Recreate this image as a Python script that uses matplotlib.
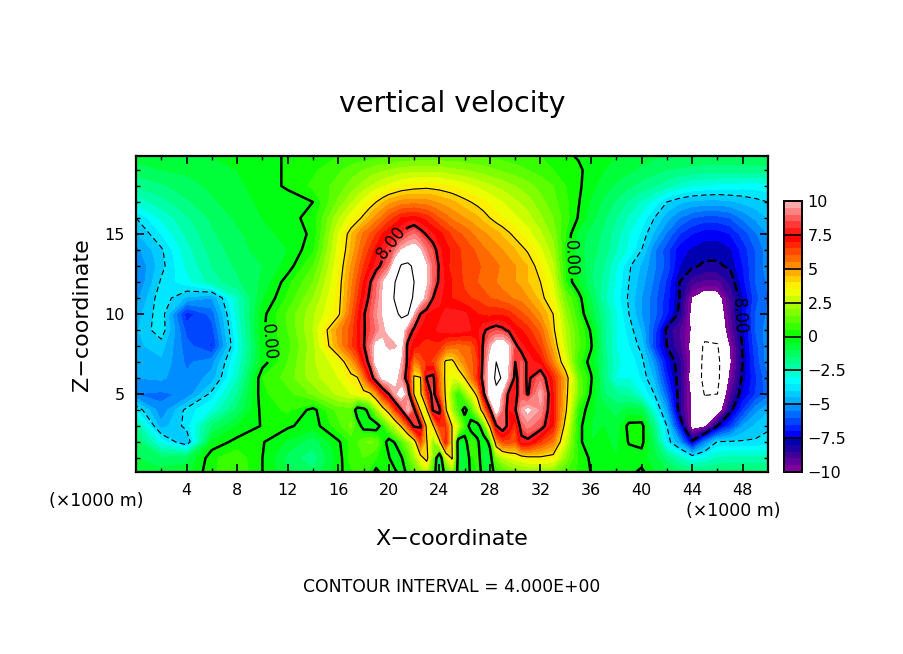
import numpy as np
import matplotlib
matplotlib.use('Agg')
import matplotlib.pyplot as plt
from matplotlib.colors import LinearSegmentedColormap, BoundaryNorm

# values, one list per height (m/s)
x_km = [0,2,4,6,8,10,12,14,16,
        17,17.5,18,18.5,19,19.5,20,20.5,21,21.5,22,22.5,23,23.5,24,24.5,25,25.5,26,26.5,27,27.5,28,28.5,29,29.5,30,30.5,31,
        32,33,34,35,36,37,38,39,40,41,42,43,44,45,46,47,48,49,50]
z_km = [0.125,1,2,3,4,5,6,7,8,9,10,11,12,13,14,15,16,17,18,19,19.875]

w_z19_9 = [-0.8,-0.7,-0.6,-0.5,-0.4,-0.3,0.1,0.3,0.5,
    0.6,.65,.7,.75,.8,.85,.9,.95,1,1.05,1.1,1.1,1.1,1.1,1.1,1.1,1.1,1.1,1,1,1,1,.9,.85,.8,.75,.7,.65,.6,
    .5,.4,.1,-.05,-.3,-.4,-.5,-.6,-.8,-.9,-1,-1,-1,-1,-1,-1,-1,-1,-1]
w_z19 = [-1.2,-1,-0.9,-0.7,-0.5,-0.3,0.1,0.4,0.9,
    1.2,1.35,1.5,1.65,1.8,1.9,2,2.1,2.2,2.25,2.3,2.3,2.3,2.3,2.3,2.2,2.1,2.05,2,1.9,1.8,1.7,1.6,1.5,1.4,1.3,1.2,1.1,1,
    .8,.5,.3,.1,-.2,-.5,-.7,-.9,-1.1,-1.3,-1.5,-1.6,-1.7,-1.8,-1.8,-1.8,-1.8,-1.8,-1.7]
w_z18 = [-2,-1.6,-1.2,-0.9,-0.6,-0.3,0.1,0.6,1.2,
    1.7,1.95,2.2,2.45,2.7,2.9,3.1,3.3,3.5,3.6,3.7,3.75,3.8,3.75,3.7,3.6,3.5,3.35,3.2,3.05,2.9,2.75,2.6,2.45,2.3,2.15,2,1.85,1.7,
    1.3,1,.5,.1,-.3,-.8,-1.1,-1.4,-1.7,-2,-2.3,-2.7,-3,-3.1,-3.2,-3.2,-3.3,-3.3,-3.2]
w_z17 = [-2.8,-2.2,-1.6,-1.1,-0.7,-0.4,-0.3,0,1.6,
    2.4,2.8,3.2,3.6,4,4.4,4.8,5,5.2,5.25,5.3,5.25,5.2,5.05,4.9,4.75,4.6,4.4,4.2,4,3.8,3.6,3.4,3.2,3,2.8,2.6,2.4,2.2,
    1.7,1.2,.6,.05,-.6,-1.1,-1.6,-2.1,-2.6,-3.2,-4,-4.4,-4.6,-4.7,-4.7,-4.6,-4.4,-4.2,-4]
w_z16 = [-4,-2.9,-2.1,-1.4,-0.9,-0.5,-0.2,0.2,2.4,
    3.3,3.7,4.2,4.7,5.2,5.7,6.2,6.6,7,7.1,7.2,7,6.8,6.4,6,5.7,5.4,5.2,5,4.8,4.6,4.3,4,3.7,3.5,3.3,3.1,2.9,2.7,
    2.1,1.5,.7,-.05,-.8,-1.4,-2,-2.6,-3.2,-4,-4.8,-5.5,-6,-6.2,-6.2,-6,-5.4,-4.9,-4.5]
w_z15 = [-4.6,-3.5,-2.4,-1.6,-1.1,-0.7,-0.3,0.1,3,
    4.4,5,5.6,6,6.5,7,7.4,7.7,8,8.6,9,8.4,7.9,7.5,7.2,6.8,6.4,6.1,5.9,5.6,5.3,5.1,4.9,4.7,4.4,4.1,3.8,3.5,3.2,
    2.6,1.8,.5,-.7,-1.2,-1.6,-2.3,-3,-3.6,-4.6,-5.6,-6.5,-7,-7.3,-7.3,-7,-6.3,-5.6,-5]
w_z14 = [-5.2,-4.1,-2.7,-1.8,-1.2,-0.8,-0.5,0.4,3.2,
    4.6,5.3,6,6.6,7.2,7.7,8.2,9,10,10.4,10.6,10,9,8.4,7.6,7.2,6.9,6.6,6.3,6.1,5.9,5.6,5.4,5.2,5,4.8,4.5,4.2,3.9,
    3.1,2.2,.3,-.8,-1.3,-1.7,-2.5,-3.1,-4,-5.4,-6.3,-7.3,-7.6,-7.8,-7.8,-7.6,-6.8,-6,-5.2]
w_z13 = [-5.6,-4.2,-2.9,-2,-1.4,-1,-0.3,1,3.4,
    5,5.7,6.5,7.1,7.7,8.2,9,10.8,12.2,12.4,11.7,11,10,8.8,7.9,7.2,6.8,6.6,6.4,6.2,6.1,5.9,5.8,5.6,5.4,5.2,5,4.7,4.5,
    3.6,2.6,.4,-.6,-1.4,-2,-3,-3.9,-4.6,-5.4,-6.2,-7.5,-7.9,-8.1,-8.1,-7.9,-7,-6,-5.2]
w_z12 = [-5.6,-3.9,-3.2,-2.3,-1.6,-0.9,0.3,1.5,3.6,
    5.3,6.1,7,7.9,8.8,9.8,11,12,12.6,12.7,12,11,10,8.8,7.8,7.4,7,6.7,6.4,6.2,6,5.8,5.7,5.5,5.3,5.1,5,4.8,4.5,
    4,3,.5,-.5,-1.4,-2.2,-3.1,-4,-4.8,-5.6,-6.6,-8,-8.8,-9.2,-9.2,-8.4,-7.2,-6,-5.4]
w_z11 = [-5.2,-3.6,-4.6,-5,-2.6,-0.6,0.6,2,3.7,
    5.5,6.4,7.4,8.2,9,10,11.2,12.2,12.7,12.6,11.8,10.5,9.4,8,7.6,7.3,7,6.8,6.6,6.5,6.4,6.2,6,5.9,5.7,5.6,5.4,5.3,5,
    4.3,3.3,1.5,.3,-1,-2.3,-3.3,-4.1,-5,-5.8,-6.8,-8,-10.1,-10.8,-10.6,-9,-7.6,-6.2,-5.5]
w_z10 = [-4.8,-3.6,-6.8,-5.8,-2.8,-0.2,1.1,2.4,3.8,
    5.8,6.8,7.9,8.5,9.4,10,10.6,11.6,12.4,12.2,9.6,8,7.4,7.3,7.4,7.6,7.7,7.7,7.6,7.3,7,6.9,6.8,6.9,6.9,6.7,6.4,6.1,5.8,
    5,4,2,.6,-.8,-1.9,-3,-4,-5,-5.8,-6.9,-8.2,-10.4,-11,-11,-9.2,-7.4,-6,-5.4]
w_z9 = [-4.6,-3.6,-6.2,-6.2,-3,-0.1,1,2.5,5.2,
    6.2,7,7.9,8.4,9,9.8,10.2,10.6,10.8,8.8,7.8,7.4,7.3,7.4,7.6,7.8,7.9,7.8,7.7,7.5,7.3,7.9,8.2,8.4,8.2,7.8,7.3,7,6.7,
    5.8,4.2,2.4,1,-.1,-1.8,-3,-3.7,-4.6,-6.2,-8.2,-9,-10.2,-11.2,-11.4,-9.4,-7.7,-6,-5.2]
w_z8 = [-4.6,-4.3,-5.8,-6.6,-3.2,-0.3,0.8,2.3,5,
    6.3,7,7.9,9,10.3,10.2,9.6,9.8,10.2,7.7,7.2,6.9,6.7,6.8,6.8,6,5.8,5.7,5.8,6,6.8,8.2,9.6,10.8,11,10,8.2,7.6,7.3,
    6.4,4.7,2.6,1.1,.1,-1.8,-3,-3.5,-4.2,-6.4,-8,-8.9,-10.4,-12.3,-12.1,-10,-7.9,-6.2,-5.2]
w_z7 = [-4.8,-4.6,-5.6,-5.2,-2.9,-0.3,1,2.4,3.3,
    4.8,5.8,7.2,8.4,10.4,10.8,11,10.8,9.8,7.7,5.3,6,6.6,6.4,5.2,3.8,3.7,4.6,5.4,5.8,6.4,8.4,10.3,12,11.5,9.8,8,8.6,7.8,
    7.2,5.4,3.2,.7,-.3,-1.6,-2.9,-3.2,-3.8,-5.2,-7.3,-8.4,-10.4,-12.5,-12.4,-10.2,-8,-6.4,-5.2]
w_z6 = [-5,-4.9,-5.4,-4.8,-2.6,0.5,1.2,2.3,3,
    3.7,3.9,5.4,7.2,8.8,10.2,10.6,10.4,9.2,7.2,3.8,3.9,8.1,8.4,5.6,3.7,3,3.3,4,5.4,6.6,8.6,10.6,12.5,11.8,9.4,7.7,8.6,7.8,
    8.8,6.8,4.6,1.4,.1,-1.6,-3,-3,-3.6,-4.6,-6.8,-8.4,-10.6,-12.5,-12.4,-9.8,-7.8,-6.6,-5.6]
w_z5 = [-5.5,-5.6,-5.4,-3.8,-2,0.4,0.8,1.6,2.6,
    3,3.3,3.6,3.8,5,6.8,8,9.6,10.6,9.2,3.8,3.7,6.6,8.6,6,3.8,1.8,.3,1.8,3,4.4,7.8,10.8,11.4,9.4,7.7,7.7,8.6,7.9,
    9.8,7,4.4,1.5,-.1,-1.4,-2,-2.2,-3,-4,-6,-8.4,-10.3,-12.1,-12,-9.2,-7.5,-6.5,-5.7]
w_z4 = [-3.5,-5.4,-3.8,-3,-1.4,0.2,0.6,-0.2,1.2,
    1.2,-.6,-.4,.5,2,3.4,4.6,6.4,8,10,8.4,3.8,3.8,8.2,8.4,4.2,2.3,.8,-.4,.8,2.6,5,7.8,10.6,9,7.4,7.9,9.6,10.2,
    9.4,7,4.2,.5,-.4,-.8,-1.2,-.8,-1,-3,-5,-8.4,-10.3,-11,-11,-8.3,-6.5,-5.2,-4.6]
w_z3 = [-2,-4.8,-3.8,-1.5,-0.5,0.05,0.1,-0.3,0.8,
    1.6,.6,-.4,-.5,-.5,.4,1.6,2.8,4.2,6,8.2,8.2,3.6,3.8,6.6,6.5,4,2.5,.8,-.5,-.6,1,4.3,7.9,8.8,7.6,6.5,8.6,9.2,
    8.5,7,3.5,.2,-.5,-.5,-.8,.2,.3,-1.8,-4,-7,-10.6,-10.3,-8,-6.5,-5,-4.4,-4.1]
w_z2 = [-1.3,-3.2,-4.6,-0.4,0.2,0.05,-0.6,-1.3,-0.1,
    .6,1,1.4,1.6,1.4,.5,-.4,.1,1,2,3.3,6.2,4.1,2,3.6,7,4,-.6,-.5,1,.2,-.7,.3,5,6.2,6.3,6,7.6,7.7,
    6.5,5.5,2.8,.2,-.5,-.4,-.6,.05,.2,-1.2,-3.6,-5,-7.8,-5.4,-3.9,-3.9,-3.9,-3.9,-3.8]
w_z1 = [-1,-1.4,-1.2,0.4,0.8,0,-1.2,-1.8,-0.3,
    .7,.9,1,.8,.5,.3,.1,-.8,-.1,1,2,3.5,4.5,1.5,-1.4,2.6,4.2,-.5,-1,.4,.6,-.9,-.5,1.6,2.5,2.9,3.2,3.5,3.7,
    3.8,3.6,1.8,.4,-.1,-.3,-.5,-.3,-.3,-.8,-1.7,-2.5,-3.3,-3,-2.5,-2.4,-2.4,-2.4,-2.4]
w_z0 = [-0.7,-0.8,-0.7,0.4,0.9,0,-0.9,-1.4,-0.2,
    .4,.6,.7,.4,-.2,.2,.5,.2,-.5,.3,1.2,1.8,2.4,.8,-1.3,.6,1.8,-.4,-.9,.2,.5,-.4,-.6,.5,1,1.3,1.6,1.7,1.8,
    2,1.7,1,.4,-.02,-.2,-.3,-.2,.15,-.5,-1,-1.3,-1.5,-1.5,-1.4,-1.3,-1.3,-1.4,-1.4]

w = np.array([w_z0,w_z1,w_z2,w_z3,w_z4,w_z5,w_z6,w_z7,w_z8,w_z9,w_z10,w_z11,w_z12,
              w_z13,w_z14,w_z15,w_z16,w_z17,w_z18,w_z19,w_z19_9])

bar_ticks = [-10,-7.5,-5,-2.5,0,2.5,5,7.5,10]
bar_labels = ['\u221210','\u22127.5','\u22125','\u22122.5','0','2.5','5','7.5','10']

W, H = 904., 654.
def px_box(l, t, r, b):
    return [l/W, 1-b/H, (r-l)/W, (b-t)/H]

anchors = [(0.00,(0.50,0,0.62)),(0.05,(0.25,0,0.60)),(0.10,(0,0,0.66)),(0.13,(0,0,1)),
           (0.25,(0,0.66,1)),(0.33,(0,1,1)),(0.375,(0,1,0.72)),(0.50,(0,1,0)),
           (0.625,(0.70,1,0)),(0.68,(1,1,0)),(0.75,(1,0.65,0)),(0.875,(1,0,0)),
           (0.93,(1,0.25,0.25)),(1.00,(1,0.66,0.66))]
cmap = LinearSegmentedColormap.from_list('vel', anchors, N=40)
cmap.set_over('white')
cmap.set_under('white')
levels = np.arange(-10, 10.01, 0.5)
norm = BoundaryNorm(levels, cmap.N)

fig = plt.figure(figsize=(9.04, 6.54), dpi=100)
ax = fig.add_axes(px_box(136, 156, 768, 472))

ax.contourf(x_km, z_km, w, levels=levels, cmap=cmap, norm=norm, extend='both', antialiased=False)

# thin lines +-4 and +-12, thick ones 0 and +-8
ax.contour(x_km, z_km, w, levels=[-12,-4], colors='k', linewidths=0.8, linestyles=[(0,(5,3))])
ax.contour(x_km, z_km, w, levels=[4,12], colors='k', linewidths=0.8, linestyles='solid')
cs = ax.contour(x_km, z_km, w, levels=[-8,0,8], colors='k', linewidths=1.8, linestyles=['--','-','-'])
lab = ax.clabel(cs, fmt=lambda v: '%.2f' % abs(v), fontsize=12, inline=True, inline_spacing=2,
                manual=[(10.7,8.3),(34.6,13.5),(20.3,14.4),(47.8,9.9)])

ax.set_xlim(0, 50)
ax.set_ylim(0.125, 19.875)
ax.set_xticks(np.arange(4, 49, 4))
ax.set_xticks(np.arange(2, 50, 2), minor=True)
ax.set_yticks([5, 10, 15])
ax.set_yticks(np.arange(1, 20, 1), minor=True)
ax.tick_params(which='major', direction='in', length=6, width=1.2, top=True, right=True, labelsize=11.5, pad=8)
ax.tick_params(which='minor', direction='in', length=3, width=1, top=True, right=True)
for sp in ax.spines.values():
    sp.set_linewidth(1.6)

cax = fig.add_axes(px_box(784, 201, 802, 472))
sm = plt.cm.ScalarMappable(norm=norm, cmap=cmap)
cb = fig.colorbar(sm, cax=cax, extend='neither', spacing='proportional')
cb.set_ticks(bar_ticks, labels=bar_labels)
cb.minorticks_off()
cb.ax.tick_params(length=0, labelsize=11.5, pad=4)
cb.outline.set_linewidth(1.4)
cax.hlines(bar_ticks, 0, 1, colors='k', linewidth=1.2, transform=cax.get_yaxis_transform())

def label(px, py, s, size, **kw):
    fig.text(px/W, 1-py/H, s, ha='center', va='center', fontsize=size, **kw)

label(452, 104, 'vertical velocity', 20.5)
label(452, 539, 'X\u2212coordinate', 16)
label(82, 315, 'Z\u2212coordinate', 16, rotation=90)
label(96, 501, '(\u00d71000 m)', 12.5)
label(733, 511, '(\u00d71000 m)', 12.5)
label(452, 587, 'CONTOUR INTERVAL = 4.000E+00', 12.4)

fig.savefig('out.png', dpi=100)
